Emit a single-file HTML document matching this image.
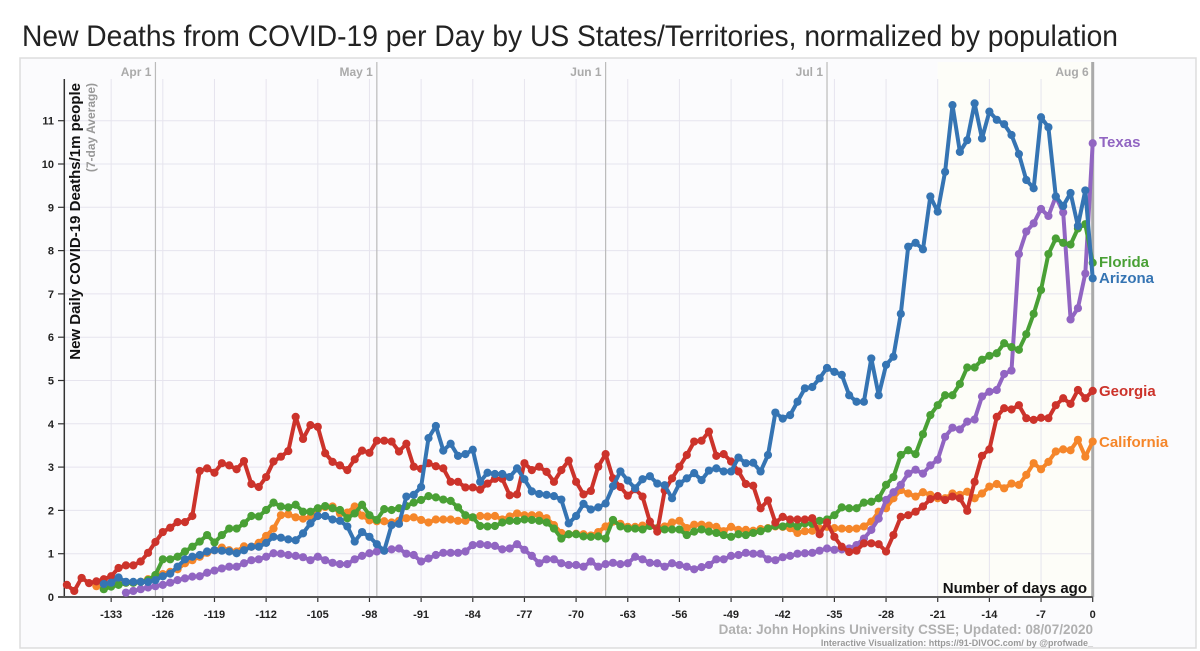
<!DOCTYPE html>
<html><head><meta charset="utf-8"><style>
html,body{margin:0;padding:0;background:#fff;width:1200px;height:651px;overflow:hidden;font-family:"Liberation Sans",sans-serif;}
</style></head><body>
<svg id="chart" width="1200" height="651" xmlns="http://www.w3.org/2000/svg" font-family="Liberation Sans, sans-serif">
<text x="22" y="46" font-size="30" fill="#222" textLength="1096" lengthAdjust="spacingAndGlyphs">New Deaths from COVID-19 per Day by US States/Territories, normalized by population</text>
<rect x="20" y="58" width="1176" height="590" fill="#fbfbfd" stroke="#ddd" stroke-width="1.5"/>
<g id="plot"></g>
</svg>
<script>
const startDays = {az:-134, ca:-135, fl:-134, ga:-139, tx:-131};
const arizona = [0.30,0.33,0.45,0.35,0.35,0.35,0.35,0.39,0.48,0.54,0.70,0.87,0.93,0.97,1.05,1.08,1.07,1.05,1.01,1.08,1.16,1.16,1.25,1.39,1.37,1.33,1.31,1.47,1.70,1.87,1.87,1.79,
1.76,1.63,1.28,1.50,1.39,1.22,1.07,1.66,1.69,2.32,2.36,2.54,3.67,3.95,3.38,3.54,3.26,3.30,3.40,2.66,2.87,2.84,2.84,2.77,2.97,2.72,2.44,2.38,2.36,2.33,2.25,1.70,1.87,2.15,2.02,2.07,2.16,
2.56,2.90,2.69,2.51,2.72,2.79,2.62,2.58,2.28,2.62,2.74,2.86,2.70,2.92,2.97,2.90,2.90,3.22,3.09,3.10,2.90,3.28,4.26,4.12,4.20,4.51,
4.82,4.85,5.05,5.29,5.20,
5.13,4.66,4.51,4.51,5.51,4.66,5.36,5.55,6.54,8.09,8.18,8.03,
9.25,8.90,9.82,11.36,10.28,10.55,11.40,10.59,11.21,11.02,10.92,10.67,10.23,9.63,9.44,11.08,10.85,9.25,9.03,9.33,8.57,9.39,7.36];
const california = [0.25,0.30,0.31,0.31,0.33,0.33,0.35,0.41,0.47,0.53,0.58,0.64,0.78,0.85,0.93,1.02,1.08,1.14,1.08,1.05,1.17,1.16,1.25,1.41,1.58,1.89,1.91,1.84,1.81,1.84,2.02,2.08,2.09,
1.93,1.95,2.09,1.88,1.77,1.75,1.75,1.72,1.76,1.82,1.84,1.78,1.72,1.79,1.79,1.79,1.76,1.76,1.84,1.87,1.86,1.87,1.79,1.86,1.93,1.89,1.89,1.89,1.82,1.66,1.48,1.45,1.46,1.45,1.42,1.50,1.63,
1.74,1.69,1.62,1.62,1.65,1.65,1.59,1.63,1.72,1.76,1.59,1.67,1.67,1.65,1.62,1.52,1.62,1.55,1.55,1.53,1.57,1.59,1.63,1.62,1.59,1.48,1.52,1.53,1.58,1.62,1.59,1.58,1.57,1.58,1.63,1.74,1.97,
2.05,2.28,2.47,2.39,2.32,2.42,2.36,2.28,2.28,2.39,2.36,2.43,2.28,2.39,2.55,2.61,2.51,2.62,2.59,2.82,3.09,2.95,3.12,3.36,3.41,3.39,3.63,3.24,3.59];
const florida = [0.18,0.24,0.28,0.33,0.33,0.35,0.39,0.51,0.87,0.87,0.93,1.05,1.16,1.28,1.43,1.26,1.43,1.58,1.58,1.70,1.87,1.86,2.01,2.18,2.09,2.07,2.13,1.97,1.97,2.05,2.10,2.05,
2.01,1.82,1.93,2.13,1.89,1.78,2.03,2.01,2.05,2.10,2.18,2.24,2.33,2.30,2.25,2.22,2.07,1.89,1.84,1.64,1.63,1.64,1.72,1.76,1.76,1.79,1.78,1.76,1.72,1.58,1.35,1.45,1.45,1.40,1.39,1.40,1.35,
1.78,1.63,1.58,1.58,1.56,1.64,1.58,1.56,1.56,1.56,1.43,1.51,1.56,1.51,1.48,1.43,1.39,1.45,1.43,1.48,1.52,1.58,1.64,1.63,1.69,1.63,1.70,1.69,1.76,1.79,1.89,2.07,2.05,2.05,2.18,2.20,2.28,
2.59,2.77,3.28,3.39,3.30,3.76,4.20,4.43,4.66,4.66,4.92,5.30,5.30,5.48,5.57,5.63,5.86,5.77,5.71,6.07,6.54,7.09,7.92,8.28,8.18,8.14,8.51,8.61,7.72];
const georgia = [0.28,0.14,0.44,0.32,0.36,0.41,0.48,0.67,0.73,0.73,0.82,1.02,1.27,1.50,1.60,1.73,1.73,1.87,2.91,2.97,2.87,3.09,3.04,2.95,3.14,2.61,2.54,2.77,3.13,3.24,3.37,4.16,3.65,3.97,3.93,3.32,
3.12,3.04,2.93,3.18,3.38,3.33,3.61,3.61,3.59,3.36,3.54,3.01,2.96,3.09,3.02,2.97,2.66,2.66,2.53,2.53,2.48,2.62,2.73,2.73,2.35,2.37,3.09,2.93,3.01,2.89,2.66,2.93,3.15,2.66,2.37,2.45,3.01,3.30,
2.74,2.54,2.34,2.49,2.32,1.74,1.51,2.46,2.74,3.01,3.28,3.59,3.61,3.82,3.26,3.30,3.13,2.90,2.61,2.57,2.05,2.23,1.72,1.85,1.79,1.79,1.79,1.82,1.45,1.72,1.39,1.16,1.04,1.07,1.24,1.24,1.22,
1.05,1.43,1.85,1.89,1.97,2.09,2.26,2.33,2.24,2.32,2.28,1.99,2.66,3.26,3.41,4.16,4.36,4.33,4.43,4.13,4.09,4.14,4.13,4.43,4.59,4.46,4.78,4.59,4.76];
const texas = [0.10,0.14,0.18,0.22,0.25,0.28,0.33,0.39,0.43,0.47,0.48,0.56,0.61,0.66,0.70,0.70,0.78,0.85,0.87,0.93,1.01,1.00,0.97,0.95,0.92,0.85,0.93,0.85,0.79,
0.76,0.76,0.87,0.95,1.01,1.05,1.07,1.10,1.12,1.00,0.97,0.82,0.89,0.97,1.02,1.02,1.02,1.05,1.20,1.22,1.20,1.18,1.10,1.12,1.22,1.09,0.95,0.78,0.87,0.87,0.78,0.74,0.74,0.70,0.82,0.70,0.76,
0.79,0.76,0.78,0.93,0.87,0.79,0.78,0.70,0.78,0.74,0.70,0.64,0.69,0.74,0.87,0.87,0.95,0.97,1.02,1.00,1.00,0.87,0.85,0.92,0.95,1.00,1.01,1.02,1.07,1.12,1.09,
1.10,1.12,1.20,1.35,
1.55,1.81,2.24,2.42,2.59,2.85,2.94,2.85,3.04,3.17,3.70,3.91,3.87,4.05,4.10,4.63,4.74,4.78,5.15,5.23,7.92,8.44,8.63,8.96,8.80,9.25,8.88,6.41,6.67,7.47,10.48];
const xTicks = [-133,-126,-119,-112,-105,-98,-91,-84,-77,-70,-63,-56,-49,-42,-35,-28,-21,-14,-7,0];
const yTicks = [0,1,2,3,4,5,6,7,8,9,10,11];
const monthLabels = ["Apr 1","May 1","Jun 1","Jul 1","Aug 6"];
const monthDays = [-127,-97,-66,-36,0];
const stateNames = ["Texas","Florida","Arizona","Georgia","California"];

const X0 = 1092.7, PXD = 7.38, Y0 = 597, PXV = 43.3;
const xs = d => X0 + d*PXD;
const ys = v => Y0 - v*PXV;
const NS = "http://www.w3.org/2000/svg";
const g = document.getElementById('plot');
function mk(tag, attrs, parent){const e=document.createElementNS(NS,tag);for(const k in attrs)e.setAttribute(k,attrs[k]);(parent||g).appendChild(e);return e;}

let sh = mk('rect',{x:xs(-21),y:62,width:xs(0)-xs(-21),height:Y0-62,fill:'#fdfdf8'});


yTicks.forEach(v=>{
  const l = mk('line',{x1:64,x2:xs(0),y1:ys(v),y2:ys(v),stroke:'#e6e4ee','stroke-width':1});
  
  
  mk('line',{x1:58,x2:64,y1:ys(v),y2:ys(v),stroke:'#333','stroke-width':1.2});
  const t = mk('text',{x:54,y:ys(v)+4,'text-anchor':'end','font-size':11,'font-weight':'bold',fill:'#222'});
  t.textContent = v;
  
  
});
xTicks.forEach(d=>{
  const l = mk('line',{x1:xs(d),x2:xs(d),y1:79,y2:Y0,stroke:'#e6e4ee','stroke-width':1});
  
  
  mk('line',{x1:xs(d),x2:xs(d),y1:Y0,y2:Y0+5,stroke:'#333','stroke-width':1.2});
  const t = mk('text',{x:xs(d),y:618,'text-anchor':'middle','font-size':11,'font-weight':'bold',fill:'#222'});
  t.textContent = d;
  
  
});
monthDays.forEach((d,i)=>{
  const last = i===monthDays.length-1;
  const l = mk('line',{x1:xs(d),x2:xs(d),y1:62,y2:Y0,stroke:last?'#aaa':'#bbb','stroke-width':last?3:1.2});
  
  
  const t = mk('text',{x:xs(d)-4,y:76,'text-anchor':'end','font-size':12,'font-weight':'bold',fill:'#aaa'});
  t.textContent = monthLabels[i];
  
  
});
let ax = mk('line',{x1:64.3,x2:64.3,y1:79,y2:Y0,stroke:'#333','stroke-width':1.5});


let axx = mk('line',{x1:58,x2:xs(0),y1:Y0,y2:Y0,stroke:'#555','stroke-width':2});



const series = [
  {name:'california', data:california, start:startDays.ca, color:'#f5862a'},
  {name:'texas', data:texas, start:startDays.tx, color:'#9165c2'},
  {name:'florida', data:florida, start:startDays.fl, color:'#49a035'},
  {name:'georgia', data:georgia, start:startDays.ga, color:'#cc332b'},
  {name:'arizona', data:arizona, start:startDays.az, color:'#3574b3'}
];
series.forEach(s=>{
  const sg = mk('g',{});
  
  
  const pts = s.data.map((v,i)=>xs(s.start+i).toFixed(1)+','+ys(v).toFixed(1)).join(' ');
  const pl = mk('polyline',{points:pts,fill:'none',stroke:s.color,'stroke-width':4,'stroke-linejoin':'round'},sg);
  
  
  s.data.forEach((v,i)=>{
    const c = mk('circle',{cx:xs(s.start+i),cy:ys(v),r:4.1,fill:s.color},sg);
    
    
  });
});

const labelInfo = [
  {c:'#9165c2', y:147},{c:'#49a035', y:267},{c:'#3574b3', y:283},{c:'#cc332b', y:396},{c:'#f5862a', y:447}
];
stateNames.forEach((n,i)=>{
  const t = mk('text',{x:1099,y:labelInfo[i].y,'font-size':15,'font-weight':'bold',fill:labelInfo[i].c});
  t.textContent = n;
  
  
});

let yt = mk('text',{transform:'translate(80,83) rotate(-90)','text-anchor':'end','font-size':15,'font-weight':'bold',fill:'#111'});
yt.textContent = 'New Daily COVID-19 Deaths/1m people';


let yt2 = mk('text',{transform:'translate(95,83) rotate(-90)','text-anchor':'end','font-size':12,'font-weight':'bold',fill:'#999'});
yt2.textContent = '(7-day Average)';


let xt = mk('text',{x:1087,y:593,'text-anchor':'end','font-size':15,'font-weight':'bold',fill:'#111'});
xt.textContent = 'Number of days ago';


let cr = mk('text',{x:1093,y:634,'text-anchor':'end','font-size':13.5,'font-weight':'bold',fill:'#b0b0b0'});
cr.textContent = 'Data: John Hopkins University CSSE; Updated: 08/07/2020';


let cr2 = mk('text',{x:1093,y:646,'text-anchor':'end','font-size':9,'font-weight':'bold',fill:'#999'});
cr2.textContent = 'Interactive Visualization: https://91-DIVOC.com/ by @profwade_';


</script>
</body></html>
